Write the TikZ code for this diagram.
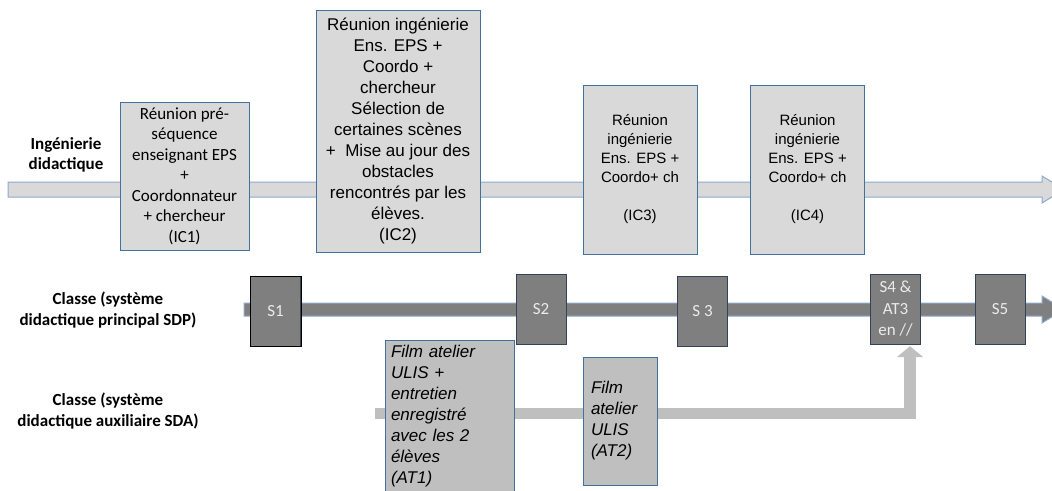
\documentclass[tikz,border=0pt]{standalone}
\usepackage{fontspec}
\setmainfont{Liberation Sans}
\newfontfamily\calibri{Carlito}
\usetikzlibrary{arrows.meta}
\definecolor{boxfill}{HTML}{D9D9D9}
\definecolor{boxline}{HTML}{41719C}
\definecolor{bandline}{HTML}{8EAACB}
\definecolor{seancefill}{HTML}{7F7F7F}
\definecolor{seanceline}{HTML}{33435A}
\definecolor{atfill}{HTML}{BFBFBF}

\begin{document}
\begin{tikzpicture}[x=1pt,y=-1pt,
    rowlabel/.style={align=center,font=\calibri\bfseries\fontsize{17}{20.5}\selectfont},
    icbox/.style={draw=boxline,fill=boxfill,inner sep=0pt,align=center,font=\fontsize{17}{21}\selectfont},
    seance/.style={draw=seanceline,fill=seancefill,text=white!92!black,inner sep=0pt,align=center,
        minimum width=50pt,minimum height=70pt,font=\calibri\fontsize{17}{21.5}\selectfont},
    atbox/.style={draw=boxline,fill=atfill,inner sep=0pt,align=left,font=\itshape\fontsize{17}{21}\selectfont},
    icband/.style={draw=bandline,fill=boxfill,line width=1pt},
    sdpband/.style={draw=bandline,fill=seancefill,line width=1pt},
    sdaband/.style={draw=atfill,line width=11.5pt,line join=miter,-{Triangle[width=26pt,length=11pt]}}]
    \useasboundingbox (0,0) rectangle (1052,490);
    \clip (0,0) rectangle (1052,490);

    % titres des lignes
    \node[rowlabel] (lab-ic) at (66,155) {Ingénierie\\didactique};
    \node[rowlabel] (lab-sdp) at (108,310) {Classe (système\\didactique principal SDP)};
    \node[rowlabel] (lab-sda) at (108,411) {Classe (système\\didactique auxiliaire SDA)};

    % ingenierie didactique
    \draw[icband] (8,182) -- (1042,182) -- (1042,176) -- (1064,189.5) -- (1042,203) -- (1042,197) -- (8,197) -- cycle;
    \node[icbox,font=\calibri\fontsize{17}{20.5}\selectfont,minimum width=129pt,minimum height=148pt] (ic1) at (184.5,176)
        {Réunion pré-\\séquence\\enseignant EPS\\+\\Coordonnateur\\+ chercheur\\(IC1)};
    \node[icbox,minimum width=164pt,minimum height=242pt] (ic2) at (398,131)
        {Réunion ingénierie\\Ens. EPS +\\Coordo +\\chercheur\\Sélection de\\certaines scènes\\+~~Mise au jour des\\obstacles\\rencontrés par les\\élèves.\\(IC2)};
    \foreach \nom/\x/\num in {ic3/640/IC3,ic4/807.5/IC4}
        \node[icbox,font=\fontsize{15}{19}\selectfont,minimum width=114pt,minimum height=169pt] (\nom) at (\x,169.5)
            {Réunion\\ingénierie\\Ens. EPS +\\Coordo+ ch\\~\\(\num)};

    % systeme didactique principal
    \draw[sdpband] (244,303) -- (1042,303) -- (1042,296) -- (1064,309.5) -- (1042,323) -- (1042,316) -- (244,316) -- cycle;
    \foreach \nom/\x/\y/\txt in {s1/275.5/311/S1, s2/541/309/S2, s3/702.5/311/S 3, s4/895.5/309/{S4 \&\\AT3\\en //}, s5/1000/309/S5}
        \node[seance] (\nom) at (\x,\y) {\txt};
    \draw[draw=black] (s1.south west) rectangle (s1.north east);

    % systeme didactique auxiliaire
    \coordinate (sda-start) at (375,413.5);
    \draw[sdaband] (sda-start) -| ([xshift=14.5pt,yshift=-2pt]s4.south);
    \node[atbox,minimum width=129pt,minimum height=152pt,text width=117pt] (at1) at (449.5,416)
        {Film atelier\\ULIS +\\entretien\\enregistré\\avec les 2\\élèves\\(AT1)};
    \node[atbox,minimum width=74pt,minimum height=128pt,text width=58pt] (at2) at (620,421)
        {Film\\atelier\\ULIS\\(AT2)};
\end{tikzpicture}
\end{document}
